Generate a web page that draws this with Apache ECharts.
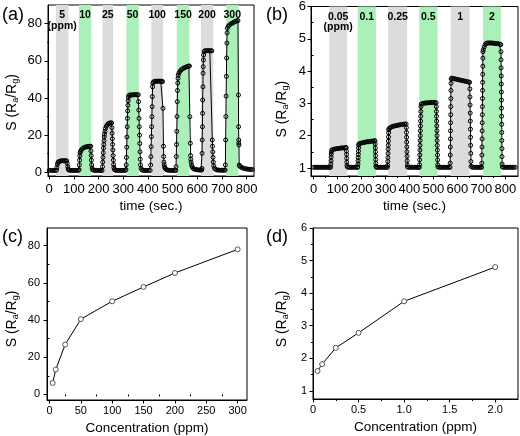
<!DOCTYPE html>
<html><head><meta charset="utf-8">
<script src="https://cdn.jsdelivr.net/npm/echarts@6/dist/echarts.min.js"></script>
<style>html,body{margin:0;padding:0;background:#fff}#c{width:520px;height:436px}</style>
</head><body><div id="c"></div>
<script>
// ---------- DATA ----------
const bandsA = [[27,78],[120,170],[216,259],[313,363],[414,461],[517,568],[615,665],[717,767]];
const bandLabelsA = ['5\n(ppm)','10','25','50','100','150','200','300'];
const respA = [
[0,1.0],[6,1.0],[12,1.0],[18,1.0],[24,1.0],[29,1.1],
[31,2.5],[33,4.2],[35,5.2],[38,5.7],[42,5.9],[47,6.1],[52,6.2],[57,6.2],[62,6.2],[67,6.2],[71,6.1],[73,4.8],[75,3.0],[77,1.8],[79,1.3],
[82,1.1],[88,1.0],[94,1.0],[100,1.0],[106,1.0],[112,1.0],[118,1.0],
[121,1.5],[122,4.0],[123,6.5],[124,8.8],[125,10.4],[127,11.3],[130,12.0],[135,12.7],[140,13.2],[145,13.5],[150,13.7],[155,13.8],[160,13.9],[165,14.0],[168,14.0],[169,11.5],[170,9.0],[171,6.5],[172,4.0],[174,2.2],[176,1.4],
[180,1.1],[186,1.0],[192,1.0],[198,1.0],[204,1.0],[210,1.0],[214,1.0],
[216,3.0],[217,5.5],[218,8.0],[219,10.5],[220,13.0],[221,15.0],[222,17.0],[223,19.0],[224,20.5],[226,22.0],[228,23.5],[231,24.6],[235,25.5],[240,26.2],[245,26.5],[250,26.6],[253,26.5],[254,24.0],[255,21.0],[256,18.0],[257,15.0],[258,12.0],[259,9.0],[260,6.5],[261,4.2],[262,2.6],[264,1.6],[267,1.2],
[272,1.0],[278,1.0],[284,1.0],[290,1.0],[296,1.0],[302,1.0],[308,1.0],
[311,1.5],[312,4.0],[313,8.0],[314,13.5],[315,19.0],[316,24.5],[317,29.0],[318,33.0],[319,36.0],[320,38.5],[321,40.3],[323,41.3],[327,41.6],[332,41.6],[337,41.6],[342,41.7],[347,41.7],[352,41.7],[357,41.7],[361,41.7],[362,38.0],[363,33.5],[364,29.0],[365,24.5],[366,20.0],[367,15.5],[368,11.0],[369,7.0],[370,4.0],[372,2.2],[375,1.4],
[379,1.1],[385,1.0],[391,1.0],[397,1.0],[403,1.0],[409,1.0],
[411,3.9],[412,8.4],[413,13.8],[414,19.2],[415,24.5],[416,29.9],[417,35.3],[418,40.7],[419,46.0],[420,47.9],[422,48.6],[427,48.9],[432,49.0],[437,49.0],[442,49.0],[447,49.0],[452,49.0],[456,49.0],[459,48.8],[461,34.4],[463,14.0],[464,8.5],[465,5.5],[466,4.0],[468,2.8],[470,2.0],[474,1.5],
[479,1.2],[485,1.1],[491,1.0],[497,1.0],[503,1.0],[509,1.0],[513,1.0],
[514,3.0],[515,8.5],[516,15.0],[517,22.0],[518,30.0],[519,38.0],[520,44.0],[521,48.0],[522,50.5],[523,52.3],[526,53.5],[531,54.5],[536,55.2],[541,55.7],[546,56.1],[551,56.4],[556,56.7],[561,56.9],[566,57.1],[568,57.2],[570,29.9],[572,15.6],[573,9.0],[574,7.0],[575,5.5],[577,4.0],[579,3.0],[582,2.2],[586,1.8],
[591,1.6],[597,1.4],[603,1.3],[609,1.2],[615,1.2],[618,1.3],
[619,2.1],[619.5,10.2],[620,17.4],[621,24.5],[621.5,31.7],[622,38.9],[623,46.0],[623.5,53.3],[624,56.8],[625,60.4],[626,63.1],[628,64.9],[631,65.4],[636,65.4],[641,65.4],[646,65.4],[651,65.4],[656,65.4],[659,65.3],[661,17.4],[662,14.0],[663,11.0],[664,8.0],[665,5.5],[667,3.5],[670,2.2],[674,1.6],
[679,1.3],[685,1.2],[691,1.1],[697,1.1],[703,1.1],[709,1.1],[713,1.2],
[714,4.0],[715,17.4],[716,30.0],[717,41.0],[718,51.6],[719,61.5],[720,69.5],[721,75.0],[722,77.5],[726,78.6],[731,79.3],[736,79.8],[741,80.2],[746,80.6],[751,80.9],[756,81.2],[761,81.5],[765,81.6],[767,41.6],[767.5,24.5],[768,17.4],[768.5,15.8],[769,14.7],[770,3.9],
[772,3.4],[776,2.9],[781,2.5],[787,2.2],[793,2.0],[799,1.8],[805,1.7],[811,1.6],[817,1.5],[823,1.5]
];

const bandsB = [[65,140],[184,260],[311,390],[441,517],[572,651],[707,782]];
const bandLabelsB = ['0.05\n(ppm)','0.1','0.25','0.5','1','2'];
const respB = [
[0,1.02],[6,1.02],[12,1.02],[18,1.02],[24,1.02],[30,1.02],[36,1.02],[42,1.02],[48,1.02],[54,1.02],[60,1.02],[66,1.02],[71,1.02],
[72,1.12],[72.5,1.22],[73,1.33],[73.5,1.43],[74,1.5],[76,1.55],[80,1.57],[86,1.58],[92,1.59],[98,1.6],[104,1.6],[110,1.61],[116,1.62],[122,1.62],[128,1.62],[133,1.63],[136,1.63],
[137,1.52],[137.5,1.42],[138,1.3],[138.5,1.18],[139,1.08],[141,1.03],
[146,1.02],[152,1.02],[158,1.02],[164,1.02],[170,1.02],[176,1.02],[182,1.02],[184,1.03],
[185,1.12],[185.5,1.22],[186,1.32],[186.5,1.42],[187,1.52],[187.5,1.62],[188,1.7],[189,1.74],[193,1.76],[199,1.77],[205,1.78],[211,1.79],[217,1.8],[223,1.81],[229,1.81],[235,1.82],[241,1.83],[247,1.83],[253,1.84],[256,1.84],
[257,1.74],[257.5,1.62],[258,1.5],[258.5,1.38],[259,1.26],[259.5,1.14],[260,1.05],[262,1.02],
[267,1.02],[273,1.02],[279,1.02],[285,1.02],[291,1.02],[297,1.02],[303,1.02],[308,1.02],
[309,1.08],[309.5,1.2],[310,1.32],[310.5,1.45],[311,1.58],[311.5,1.7],[312,1.83],[312.5,1.96],[313,2.09],[313.5,2.18],[315,2.22],[320,2.25],[326,2.27],[332,2.29],[338,2.3],[344,2.31],[350,2.32],[356,2.33],[362,2.34],[368,2.35],[374,2.35],[380,2.36],[386,2.36],
[387,2.25],[387.5,2.1],[388,1.95],[388.5,1.8],[389,1.65],[389.5,1.5],[390,1.36],[390.5,1.22],[391,1.1],[392,1.03],
[397,1.02],[403,1.02],[409,1.02],[415,1.02],[421,1.02],[427,1.02],[433,1.02],[438,1.02],[441,1.02],
[442,1.1],[442.5,1.25],[443,1.4],[443.5,1.55],[444,1.7],[444.5,1.85],[445,2.0],[445.5,2.15],[446,2.3],[446.5,2.45],[447,2.6],[447.5,2.75],[448,2.9],[449,2.97],[452,2.99],[458,3.0],[464,3.01],[470,3.01],[476,3.02],[482,3.02],[488,3.02],[494,3.03],[500,3.03],[506,3.02],[511,3.02],
[512,2.9],[512.5,2.75],[513,2.6],[513.5,2.45],[514,2.3],[514.5,2.15],[515,2.0],[515.5,1.85],[516,1.7],[516.5,1.55],[517,1.4],[517.5,1.25],[518,1.1],[519,1.03],
[524,1.02],[530,1.02],[536,1.02],[542,1.02],[548,1.02],[554,1.02],[560,1.02],[566,1.02],[569,1.02],
[570,1.15],[570.3,1.4],[570.6,1.65],[571,1.9],[571.3,2.15],[571.6,2.4],[572,2.65],[572.3,2.9],[572.6,3.15],[573,3.4],[573.5,3.62],[574,3.76],[577,3.78],[582,3.77],[588,3.76],[594,3.75],[600,3.74],[606,3.73],[612,3.72],[618,3.71],[624,3.7],[630,3.69],[636,3.68],[642,3.67],[648,3.66],[651,3.65],
[652,3.45],[652.5,3.2],[653,2.95],[653.5,2.7],[654,2.45],[654.5,2.2],[655,1.95],[655.5,1.7],[656,1.45],[656.5,1.2],[657,1.05],
[662,1.02],[668,1.02],[674,1.02],[680,1.02],[686,1.02],[692,1.02],[698,1.02],[701,1.02],
[702,1.15],[702.3,1.4],[702.6,1.65],[703,1.9],[703.3,2.15],[703.6,2.4],[704,2.65],[704.3,2.9],[704.6,3.15],[705,3.4],[705.3,3.65],[705.6,3.9],[706,4.15],[706.3,4.4],[706.6,4.6],[708,4.66],[712,4.75],[716,4.82],[721,4.86],[726,4.87],[732,4.87],[738,4.87],[744,4.87],[750,4.86],[756,4.86],[762,4.85],[768,4.85],[774,4.84],[779,4.83],[781,4.82],
[782,4.6],[782.3,4.35],[782.6,4.1],[783,3.85],[783.3,3.6],[783.6,3.35],[784,3.1],[784.3,2.85],[784.6,2.6],[785,2.35],[785.3,2.1],[785.6,1.85],[786,1.6],[786.3,1.35],[786.6,1.12],[788,1.03],
[793,1.02],[799,1.02],[805,1.02],[811,1.02],[817,1.02],[823,1.02],[829,1.02],[835,1.02],[841,1.02]
];

const concC = [5,10,25,50,100,150,200,300];
const respC = [6.2,13.4,26.8,40.5,50.1,57.8,65.3,78.0];
const concD = [0.05,0.1,0.25,0.5,1,2];
const respD = [1.61,1.82,2.32,2.78,3.75,4.8];

const ticksTime = [0,100,200,300,400,500,600,700,800];
const minorTime = [50,150,250,350,450,550,650,750];
const ticksYA = [0,20,40,60,80];
const minorYA = [10,30,50,70];
const ticksYB = [1,2,3,4,5,6];
const minorYB = [1.5,2.5,3.5,4.5,5.5];
const ticksXC = [0,50,100,150,200,250,300];
const minorXC = [25,75,125,175,225,275];
const ticksXD = [0,0.5,1,1.5,2];
const minorXD = [0.25,0.75,1.25,1.75];

// ---------- STYLE / BUILD ----------
const FF = "'Liberation Sans', Arial, sans-serif";
const GRAY = '#dcdcdc', GREEN = '#aaf0b8';
const grids = [
  {left:48, top:5, width:206, height:171},
  {left:311, top:5, width:207, height:171},
  {left:47, top:228, width:200, height:172},
  {left:313, top:228, width:205, height:171}
].map(g => Object.assign(g, {show:true, borderColor:'#000', borderWidth:1, backgroundColor:'transparent', containLabel:false}));

const xAxis = [], yAxis = [];
function axisPair(list, gi, pos, min, max, major, minor, fs, margin, fmt, name, nameGap, nameStyle) {
  list.push({
    type:'value', gridIndex:gi, position:pos, min:min, max:max,
    name:name, nameLocation:'middle', nameGap:nameGap, nameTextStyle:nameStyle,
    axisLine:{show:true, onZero:false, lineStyle:{color:'#000', width:1}},
    axisTick:{show:true, inside:false, length:3.5, customValues:major, lineStyle:{color:'#000', width:1}},
    axisLabel:{show:true, customValues:major, fontSize:fs, fontFamily:FF, color:'#000', margin:margin, formatter:fmt},
    splitLine:{show:false}
  });
  list.push({
    type:'value', gridIndex:gi, position:pos, min:min, max:max,
    axisLine:{show:false}, axisLabel:{show:false}, splitLine:{show:false},
    axisTick:{show:true, inside:false, length:2, customValues:minor, lineStyle:{color:'#000', width:1}}
  });
}
const yNameRich = {s:{fontSize:9, fontFamily:FF, verticalAlign:'bottom', lineHeight:12, padding:[6,0,0,0]}};
function yName(pad) { return {fontSize:14, fontFamily:FF, color:'#000', lineHeight:16, rich:yNameRich, padding:pad}; }
const xNameStyle = {fontSize:13.5, fontFamily:FF, color:'#000'};
const YNAME = 'S (R{s|a}/R{s|g})';
const plain = v => String(v);
const fmtD = v => v === 0 ? '0' : v.toFixed(1);

// panel a
axisPair(xAxis, 0, 'bottom', -5, 830, ticksTime, minorTime, 13, 7, plain, 'time (sec.)', 23, xNameStyle);
axisPair(yAxis, 0, 'left', -2, 90, ticksYA, minorYA, 13, 6, plain, YNAME, 28, yName([0,24,0,0]));
// panel b
axisPair(xAxis, 1, 'bottom', -11, 853, ticksTime, minorTime, 13, 7, plain, 'time (sec.)', 23, xNameStyle);
axisPair(yAxis, 1, 'left', 0.75, 6, ticksYB, minorYB, 13, 5, plain, YNAME, 21, yName([0,36,0,0]));
// panel c
axisPair(xAxis, 2, 'bottom', -4, 315, ticksXC, minorXC, 11, 5, plain, 'Concentration (ppm)', 21, xNameStyle);
axisPair(yAxis, 2, 'left', -3, 89.5, ticksYA, minorYA, 11, 7, plain, YNAME, 27, yName([0,10,0,0]));
// panel d
axisPair(xAxis, 3, 'bottom', 0, 2.25, ticksXD, minorXD, 11, 5, fmtD, 'Concentration (ppm)', 21, xNameStyle);
axisPair(yAxis, 3, 'left', 0.75, 6, ticksYB, minorYB, 11, 6, plain, YNAME, 23, yName([0,11,0,0]));

function bandArea(bands, labels) {
  return {
    silent:true,
    label:{show:true, position:'insideTop', distance:5, formatter:'{b}', color:'#000', fontSize:10.5, fontWeight:'bold', fontFamily:FF, lineHeight:10.5},
    data: bands.map((b,i) => [
      {name:labels[i], xAxis:b[0], itemStyle:{color: i%2===0 ? GRAY : GREEN, opacity:1}},
      {xAxis:b[1]}
    ])
  };
}
const respStyle = {
  type:'line', symbol:'circle', symbolSize:4, showSymbol:true,
  lineStyle:{color:'#000', width:1}, itemStyle:{color:'rgba(255,255,255,0)', borderColor:'#000', borderWidth:1},
  emphasis:{disabled:true}
};
const series = [
  Object.assign({}, respStyle, {xAxisIndex:0, yAxisIndex:0, data:respA, markArea:bandArea(bandsA, bandLabelsA)}),
  Object.assign({}, respStyle, {xAxisIndex:2, yAxisIndex:2, data:respB, markArea:bandArea(bandsB, bandLabelsB)}),
  {type:'line', xAxisIndex:4, yAxisIndex:4, data:concC.map((c,i)=>[c,respC[i]]), symbol:'circle', symbolSize:5,
   lineStyle:{color:'#000', width:1}, itemStyle:{color:'#fff', borderColor:'#555', borderWidth:1}, emphasis:{disabled:true}},
  {type:'line', xAxisIndex:6, yAxisIndex:6, data:concD.map((c,i)=>[c,respD[i]]), symbol:'circle', symbolSize:5,
   lineStyle:{color:'#000', width:1}, itemStyle:{color:'#fff', borderColor:'#555', borderWidth:1}, emphasis:{disabled:true}}
];

const letter = (t, x, y) => ({type:'text', left:x, top:y, style:{text:t, fontSize:18, fontFamily:FF, fill:'#000'}});
const chart = echarts.init(document.getElementById('c'), null, {renderer:'canvas'});
chart.setOption({
  animation:false,
  backgroundColor:'#fff',
  grid:grids, xAxis:xAxis, yAxis:yAxis, series:series,
  graphic:[letter('(a)',2,6), letter('(b)',266,6), letter('(c)',2,228), letter('(d)',266,228)]
});
</script></body></html>
